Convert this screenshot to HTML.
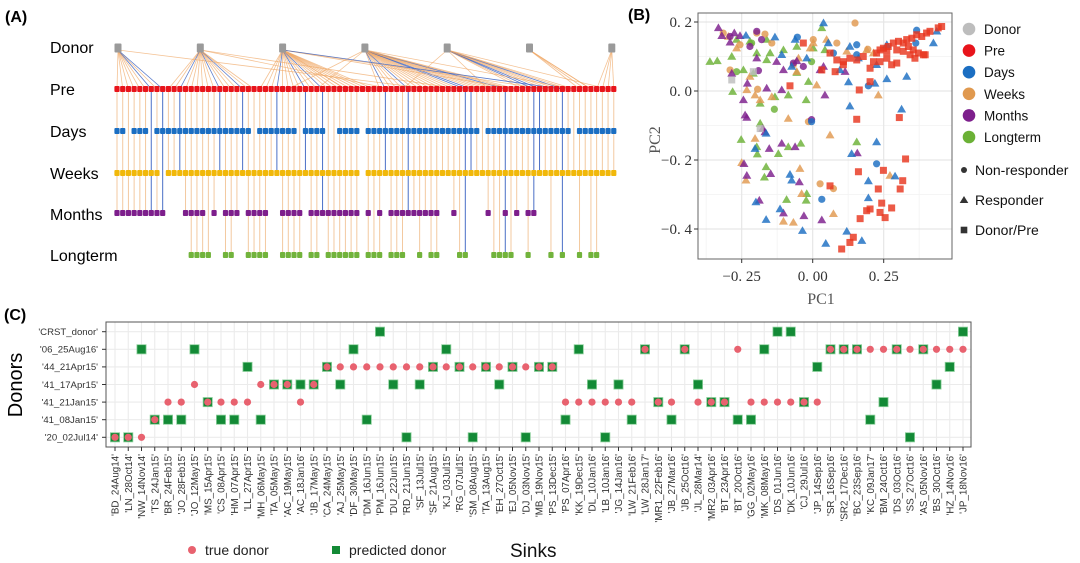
<!DOCTYPE html>
<html><head><meta charset="utf-8">
<style>
html,body{margin:0;padding:0;background:#fff;}
svg{display:block;font-family:"Liberation Sans",sans-serif;}
.ser{font-family:"Liberation Serif","Noto Serif CJK SC",serif;}
</style></head>
<body>
<svg id="fig" width="1080" height="563" viewBox="0 0 1080 563" xmlns="http://www.w3.org/2000/svg">
  <g id="panelA">
    <text x="5" y="22" font-size="16" font-weight="bold">(A)</text>
    <text x="50" y="53" font-size="16">Donor</text>
    <text x="50" y="95" font-size="16">Pre</text>
    <text x="50" y="137" font-size="16">Days</text>
    <text x="50" y="179" font-size="16">Weeks</text>
    <text x="50" y="220" font-size="16">Months</text>
    <text x="50" y="261" font-size="16">Longterm</text>
    <g id="aLines"></g>
    <g id="aDots"></g>
  </g>
  <g id="panelB">
    <text x="628" y="20" font-size="16" font-weight="bold">(B)</text>
    <rect x="698" y="13" width="254" height="246" fill="#fff"/>
    <g id="bGrid"></g>
    <g id="bPts"></g>
    <rect x="698" y="13" width="254" height="246" fill="none" stroke="#666" stroke-width="1"/>
    <g id="bAxes" class="ser"></g>
    <text class="ser" x="821" y="304" font-size="16" fill="#555" text-anchor="middle">PC1</text>
    <text class="ser" x="660" y="140" font-size="16" fill="#555" text-anchor="middle" transform="rotate(-90 660 140)">PC2</text>
    <g id="bLegend"></g>
  </g>
  <g id="panelC">
    <text x="4" y="320" font-size="16" font-weight="bold">(C)</text>
    <g id="cGrid"></g>
    <g id="cPts"></g>
    <rect x="106" y="322" width="865" height="125" fill="none" stroke="#555" stroke-width="1"/>
    <g id="cAxes"></g>
    <text x="22" y="385" font-size="20" text-anchor="middle" transform="rotate(-90 22 385)">Donors</text>
    <circle cx="192" cy="550" r="4" fill="#e8626f"/>
    <text x="205" y="555" font-size="14" fill="#222">true donor</text>
    <rect x="332" y="546" width="8" height="8" fill="#138a36"/>
    <text x="349" y="555" font-size="14" fill="#222">predicted donor</text>
    <text x="510" y="557" font-size="19" fill="#111">Sinks</text>
  </g>
</svg>
<script>
const NS="http://www.w3.org/2000/svg";
function mk(tag,attrs,parent){const e=document.createElementNS(NS,tag);for(const k in attrs)e.setAttribute(k,attrs[k]);parent.appendChild(e);return e;}

/* ===== Panel A data ===== */
const nSamples = 88;
const donorCount = 7;
const daysAbsent = [2,6,24,32,37,38,43,64,80];
const weeksAbsent = [8,43];
const monthsPresent = [0,1,2,3,4,5,6,7,8,12,13,14,15,17,19,20,21,23,24,25,26,29,30,31,32,34,35,36,37,38,39,40,41,42,44,46,48,49,50,51,52,53,54,55,56,59,65,68,70,72,73];
const longPresent = [13,14,15,16,19,20,23,24,25,26,29,30,31,32,34,35,37,38,39,40,41,42,44,45,46,48,49,50,53,55,56,60,61,66,67,68,69,72,76,78,81,83,84];
const blueLinks = [6,8,11,18,22,28,33,36,47,51,61,62,68,73,74,78];
const donorOf = [0,0,0,0,0,0,0,0,0,1,1,1,1,1,1,1,1,1,1,1,1,1,1,1,1,2,2,2,2,2,2,2,2,2,2,2,2,2,2,2,2,2,2,2,2,2,3,3,3,3,3,3,3,3,3,3,3,3,3,3,3,3,3,3,3,3,3,3,3,3,3,4,4,4,4,4,4,4,4,4,4,5,5,5,6,6,6,6];
const extraLinks = [[0,55],[1,60],[2,70],[2,75],[3,30],[3,35],[2,40],[4,50],[4,65],[3,80],[2,78],[1,48],[4,86],[5,83]];

const aX = i => 117 + i*5.71;
const dX = d => 118 + d*82.3;
const rowY = {donor:48, pre:89, days:131, weeks:173, months:213, longterm:255};
const rowCol = {pre:"#e8141b", days:"#1b6ec2", weeks:"#f1b80a", months:"#7d1f8c", longterm:"#72b33c"};
const aLines=document.getElementById('aLines'), aDots=document.getElementById('aDots');
const present = {
  pre: i=>true,
  days: i=>!daysAbsent.includes(i),
  weeks: i=>!weeksAbsent.includes(i),
  months: i=>monthsPresent.includes(i),
  longterm: i=>longPresent.includes(i)
};
const rowsOrder=["pre","days","weeks","months","longterm"];
function link(d,i){
  const blue = blueLinks.includes(i);
  const l=mk('line',{x1:dX(d),y1:rowY.donor+2,x2:aX(i),y2:rowY.pre,stroke:blue?"#3d64c2":"#efa866","stroke-width":0.8,"stroke-opacity":blue?0.85:0.7},aLines);
  
  
}
for(let i=0;i<nSamples;i++) link(donorOf[i],i);
extraLinks.forEach(p=>link(p[0],p[1]));
for(let i=0;i<nSamples;i++){
  let last="pre";
  rowsOrder.forEach(r=>{if(present[r](i))last=r;});
  if(last!=="pre"){
    const blue=blueLinks.includes(i);
    const v=mk('line',{x1:aX(i),y1:rowY.pre,x2:aX(i),y2:rowY[last],stroke:blue?"#4a6fc6":"#f3c9a0","stroke-width":1},aLines);
    
    
  }
}
rowsOrder.forEach(r=>{
  for(let i=0;i<nSamples;i++){
    if(!present[r](i))continue;
    const s=mk('rect',{x:aX(i)-2.6,y:rowY[r]-3,width:5.2,height:6,rx:1,fill:rowCol[r]},aDots);
    
    
  }
});
for(let d=0;d<donorCount;d++){
  const s=mk('rect',{x:dX(d)-3.5,y:rowY.donor-4.5,width:7,height:9,rx:1,fill:"#9a9a9a"},aDots);
  
  
}

/* ===== Panel B data ===== */
const xTicks=[-0.25,0,0.25];
const xTickLabels=["−0. 25","0. 00","0. 25"];
const yTicks=[0.2,0,-0.2,-0.4];
const yTickLabels=["0. 2","0. 0","−0. 2","−0. 4"];
const preSqX=[0.454,0.442,0.413,0.401,0.384,0.366,0.349,0.331,0.319,0.302,0.284,0.266,0.249,0.237,0.337,0.354,0.372,0.390,0.343,0.319,0.296,0.261,0.225,0.214,0.261,0.296,0.278,0.237,0.202,0.178,0.155,0.131,0.108,0.085,0.061,0.032,0.079,0.108,0.396,0.360,-0.033,-0.080,0.164,0.202,0.155,0.305,0.327,0.161,0.249,0.317,0.308,0.231,0.061,0.243,0.278,0.237,0.255,0.202,0.190,0.167,0.143,0.131,0.102];
const preSqY=[0.187,0.183,0.173,0.168,0.158,0.163,0.153,0.149,0.139,0.144,0.139,0.129,0.124,0.119,0.129,0.119,0.110,0.105,0.105,0.115,0.119,0.115,0.110,0.085,0.095,0.081,0.076,0.085,0.066,0.100,0.090,0.095,0.085,0.090,0.110,0.061,0.056,0.076,0.105,0.095,0.139,0.015,0.003,0.027,-0.082,-0.077,-0.197,-0.234,-0.230,-0.260,-0.284,-0.284,-0.275,-0.325,-0.339,-0.352,-0.367,-0.342,-0.347,-0.370,-0.424,-0.439,-0.458];
const donorSqX=[-0.285,-0.185,-0.209];
const donorSqY=[0.032,-0.109,0.056];
const daysTriX=[0.038,0.131,0.161,0.261,0.225,0.261,0.331,0.425,0.437,0.126,0.219,0.131,0.313,0.225,0.137,0.196,0.196,0.290,0.120,0.173,0.046,-0.036,-0.115,-0.164,-0.200,-0.080,-0.074,-0.203,-0.164,-0.235,-0.133,-0.109,-0.062,0.055,-0.021,-0.074,0.096];
const daysTriY=[0.197,0.129,0.095,0.134,0.076,0.035,0.042,0.139,0.173,0.026,0.022,-0.044,-0.053,-0.148,-0.182,-0.261,-0.310,-0.247,-0.407,-0.434,-0.442,-0.405,-0.342,-0.373,-0.322,-0.242,-0.259,-0.167,-0.123,0.161,0.156,0.105,0.149,0.139,0.095,0.071,0.061];
const daysCirX=[-0.054,0.155,0.196,0.366,0.363,0.225,0.032,0.155,0.073,-0.004];
const daysCirY=[0.156,0.134,0.015,0.176,0.139,-0.211,-0.314,0.105,0.110,-0.089];
const weeksCirX=[0.149,0.085,-0.168,-0.194,-0.015,0.026,0.073,-0.315,-0.291,0.194,0.002,-0.068,-0.144,-0.256,-0.197];
const weeksCirY=[0.197,0.139,0.165,0.005,-0.089,-0.269,-0.283,0.168,0.061,0.121,0.149,0.076,0.139,0.134,0.168];
const weeksTriX=[0.049,0.002,-0.086,0.061,0.231,-0.203,-0.250,-0.235,-0.039,-0.068,-0.103,0.073,0.272,-0.045,0.214,0.190,-0.297,-0.268,-0.221,-0.185,-0.203,-0.144,-0.056,0.014,-0.232,0.120,-0.050,-0.009];
const weeksTriY=[0.149,0.139,-0.080,-0.128,-0.012,-0.138,-0.208,-0.259,-0.298,-0.381,-0.378,-0.356,-0.245,-0.225,0.110,0.119,0.158,0.124,0.042,-0.026,-0.012,-0.017,0.056,0.017,0.003,0.115,0.095,0.124];
const monthsTriX=[-0.332,-0.320,-0.291,-0.276,-0.256,-0.285,-0.230,-0.244,-0.238,-0.232,-0.176,-0.168,-0.153,-0.109,-0.062,-0.047,-0.242,-0.232,-0.148,-0.188,-0.103,-0.031,0.032,0.157,-0.127,-0.103,-0.162,-0.109,-0.056,0.026,0.043,0.114,0.038,-0.197];
const monthsTriY=[0.183,0.160,0.141,0.168,0.160,0.051,0.022,-0.026,-0.070,-0.077,-0.109,-0.119,-0.167,-0.152,-0.162,-0.264,-0.211,-0.245,-0.240,-0.317,-0.354,-0.362,-0.374,-0.180,0.085,0.061,0.008,0.003,0.087,0.061,-0.012,0.056,0.071,0.095];
const monthsCirX=[-0.004,-0.197,-0.191,-0.180,-0.068,-0.033,-0.221,-0.291];
const monthsCirY=[-0.083,0.173,0.059,0.149,0.081,0.071,0.129,0.158];
const longTriX=[-0.362,-0.336,-0.285,-0.282,-0.268,-0.221,-0.197,-0.150,-0.162,-0.103,-0.244,-0.209,-0.185,-0.185,-0.133,-0.086,-0.023,-0.056,-0.015,-0.252,-0.197,-0.195,-0.121,-0.086,-0.042,-0.164,-0.170,-0.092,-0.023,-0.021,0.032,0.155,-0.056,0.002,0.043,-0.162];
const longTriY=[0.085,0.087,0.100,-0.002,0.149,0.144,0.110,0.110,0.149,0.119,0.061,0.051,-0.036,-0.094,-0.017,-0.012,-0.026,0.053,0.027,-0.141,-0.162,-0.183,-0.182,-0.162,-0.152,-0.220,-0.250,-0.315,-0.317,-0.298,0.183,-0.148,0.129,0.124,0.119,0.090];
const longCirX=[-0.135,-0.004,-0.268,-0.215];
const longCirY=[-0.053,0.085,0.056,0.139];

const bx=v=>812.7+v*284, by=v=>91-v*345;
const bGrid=document.getElementById('bGrid'), bPts=document.getElementById('bPts'), bAxes=document.getElementById('bAxes'), bLeg=document.getElementById('bLegend');
[-0.375,-0.125,0.125,0.375].forEach(v=>{const g=mk('line',{x1:bx(v),x2:bx(v),y1:13,y2:259,stroke:"#f2f2f2","stroke-width":0.8},bGrid);});
[0.1,-0.1,-0.3].forEach(v=>{const g=mk('line',{y1:by(v),y2:by(v),x1:698,x2:952,stroke:"#f2f2f2","stroke-width":0.8},bGrid);});
xTicks.forEach((v,k)=>{
  const g=mk('line',{x1:bx(v),x2:bx(v),y1:13,y2:259,stroke:"#e6e6e6","stroke-width":1.2},bGrid);
  
  const t=mk('line',{x1:bx(v),x2:bx(v),y1:259,y2:263,stroke:"#333"},bAxes);
  
  const tx=mk('text',{x:bx(v),y:281,"font-size":15,fill:"#333","text-anchor":"middle"},bAxes);tx.textContent=xTickLabels[k];
  
});
yTicks.forEach((v,k)=>{
  const g=mk('line',{y1:by(v),y2:by(v),x1:698,x2:952,stroke:"#e6e6e6","stroke-width":1.2},bGrid);
  
  const t=mk('line',{x1:694,x2:698,y1:by(v),y2:by(v),stroke:"#333"},bAxes);
  
  const tx=mk('text',{x:692,y:by(v)+5,"font-size":15,fill:"#333","text-anchor":"end"},bAxes);tx.textContent=yTickLabels[k];
  
});
const bCol={donor:"#bdbdbd",pre:"#e8141b",days:"#1b6ec2",weeks:"#e0994f",months:"#7d1f8c",longterm:"#6bb136"};
function pt(shape,group,xs,ys){
  xs.forEach((v,k)=>{
    const X=bx(v),Y=by(ys[k]);let e;
    if(shape==="s") e=mk('rect',{x:X-3.5,y:Y-3.5,width:7,height:7},bPts);
    else if(shape==="c") e=mk('circle',{cx:X,cy:Y,r:3.6},bPts);
    else e=mk('path',{d:`M${X},${Y-4.5}L${X+4.5},${Y+3.2}L${X-4.5},${Y+3.2}Z`},bPts);
    e.setAttribute('fill',group==="pre"?"#e8361f":bCol[group]);
    e.setAttribute('fill-opacity',0.82);
    
    
  });
}
pt("t","longterm",longTriX,longTriY);pt("c","longterm",longCirX,longCirY);
pt("t","weeks",weeksTriX,weeksTriY);pt("c","weeks",weeksCirX,weeksCirY);
pt("t","months",monthsTriX,monthsTriY);pt("c","months",monthsCirX,monthsCirY);
pt("t","days",daysTriX,daysTriY);pt("c","days",daysCirX,daysCirY);
pt("s","donor",donorSqX,donorSqY);pt("s","pre",preSqX,preSqY);
const legGroups=["Donor","Pre","Days","Weeks","Months","Longterm"];
const legKeys=["donor","pre","days","weeks","months","longterm"];
legGroups.forEach((g,k)=>{
  const y=29+k*21.6;
  const c=mk('circle',{cx:969,cy:y,r:6.3,fill:bCol[legKeys[k]]},bLeg);
  
  const t=mk('text',{x:984,y:y+5,"font-size":13.5,fill:"#111"},bLeg);t.textContent=g;
  
});
[["c","Non-responder",170],["t","Responder",200],["s","Donor/Pre",230]].forEach(a=>{
  const X=964,Y=a[2];let e;
  if(a[0]==="c") e=mk('circle',{cx:X,cy:Y,r:3,fill:"#333"},bLeg);
  else if(a[0]==="t") e=mk('path',{d:`M${X},${Y-4}L${X+4.3},${Y+3}L${X-4.3},${Y+3}Z`,fill:"#333"},bLeg);
  else e=mk('rect',{x:X-3.3,y:Y-3.3,width:6.6,height:6.6,fill:"#333"},bLeg);
  
  const t=mk('text',{x:975,y:Y+5,"font-size":14,fill:"#111"},bLeg);t.textContent=a[1];
  
});

/* ===== Panel C data ===== */
const donorLabels=["'20_02Jul14'","'41_08Jan15'","'41_21Jan15'","'41_17Apr15'","'44_21Apr15'","'06_25Aug16'","'CRST_donor'"];
const sinkLabels=["'BD_24Aug14'","'LN_28Oct14'","'NW_14Nov14'","'TS_24Jan15'","'BR_24Feb15'","'JO_28Feb15'","'JO_12May15'","'MS_15Apr15'","'CS_08Apr15'","'HM_07Apr15'","'LL_27Apr15'","'MH_06May15'","'TA_05May15'","'AC_19May15'","'AC_18Jan16'","'JB_17May15'","'CA_24May15'","'AJ_25May15'","'DF_30May15'","'DM_16Jun15'","'PM_16Jun15'","'DU_22Jun15'","'RD_21Jun15'","'SF_13Jul15'","'SF_21Aug15'","'KJ_03Jul15'","'RG_07Jul15'","'SM_08Aug15'","'TA_13Aug15'","'EH_27Oct15'","'EJ_05Nov15'","'DJ_03Nov15'","'MB_19Nov15'","'PS_13Dec15'","'PS_07Apr16'","'KK_19Dec15'","'DL_10Jan16'","'LB_10Jan16'","'JG_14Jan16'","'LW_21Feb16'","'LW_28Jan17'","'MR1_22Feb16'","'JB_27Mar16'","'JB_25Oct16'","'JL_28Mar14'","'MR2_03Apr16'","'BT_23Apr16'","'BT_20Oct16'","'GG_02May16'","'MK_08May16'","'DS_01Jun16'","'DK_10Jun16'","'CJ_29Jul16'","'JP_14Sep16'","'SR_16Sep16'","'SR2_17Dec16'","'BC_23Sep16'","'KC_09Jan17'","'BM_24Oct16'","'DS_03Oct16'","'SS_27Oct16'","'AS_05Nov16'","'BS_30Oct16'","'HZ_14Nov16'","'JP_18Nov16'"];
const trueDonor=[0,0,0,1,2,2,3,2,2,2,2,3,3,3,2,3,4,4,4,4,4,4,4,4,4,4,4,4,4,4,4,4,4,4,2,2,2,2,2,2,5,2,2,5,2,2,2,5,2,2,2,2,2,2,5,5,5,5,5,5,5,5,5,5,5];
const predDonor=[0,0,5,1,1,1,5,2,1,1,4,1,3,3,3,3,4,3,5,1,6,3,0,3,4,5,4,0,4,3,4,0,4,4,1,5,3,0,3,1,5,2,1,5,3,2,2,1,1,5,6,6,2,4,5,5,5,1,2,5,0,5,3,4,6];

const cx=i=>115+i*13.25, cy=r=>437.3-r*17.6;
const cGrid=document.getElementById('cGrid'), cPts=document.getElementById('cPts'), cAxes=document.getElementById('cAxes');
sinkLabels.forEach((s,i)=>{
  const g=mk('line',{x1:cx(i),x2:cx(i),y1:322,y2:447,stroke:"#ebebeb","stroke-width":1.1},cGrid);
  
  const t=mk('line',{x1:cx(i),x2:cx(i),y1:447,y2:451,stroke:"#333"},cAxes);
  
  const tx=mk('text',{x:0,y:0,"font-size":9.8,fill:"#333","text-anchor":"end",transform:`translate(${cx(i)+3.5},454) rotate(-90)`},cAxes);
  tx.textContent=s;
  
});
donorLabels.forEach((d,r)=>{
  const g=mk('line',{x1:106,x2:971,y1:cy(r),y2:cy(r),stroke:"#ebebeb","stroke-width":1.1},cGrid);
  
  const t=mk('line',{x1:102,x2:106,y1:cy(r),y2:cy(r),stroke:"#333"},cAxes);
  
  const tx=mk('text',{x:98,y:cy(r)+3.3,"font-size":9.6,fill:"#333","text-anchor":"end"},cAxes);
  tx.textContent=d;
  
});
predDonor.forEach((r,i)=>{
  const s=mk('rect',{x:cx(i)-4.6,y:cy(r)-4.6,width:9.2,height:9.2,fill:"#138a36",stroke:"#8fd19e","stroke-width":0.8},cPts);
  
  
});
trueDonor.forEach((r,i)=>{
  const c=mk('circle',{cx:cx(i),cy:cy(r),r:3.6,fill:"#e8626f"},cPts);
  
  
});
</script>
</body></html>
